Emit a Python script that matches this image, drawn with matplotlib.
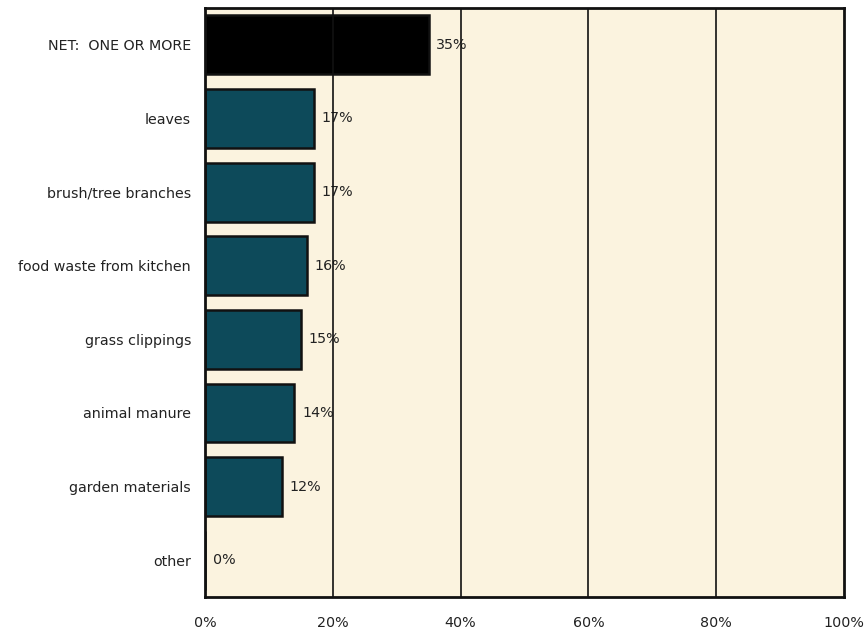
import matplotlib.pyplot as plt
import numpy as np

categories = ['NET:  ONE OR MORE', 'leaves', 'brush/tree branches',
              'food waste from kitchen', 'grass clippings', 'animal manure',
              'garden materials', 'other']
values = [35, 17, 17, 16, 15, 14, 12, 0]
bar_colors = ['#000000'] + ['#0d4a5a'] * 7
xticks = [0, 20, 40, 60, 80, 100]

fig = plt.figure(figsize=(8.67, 6.35), dpi=100)
ax = fig.add_axes([0.2364, 0.0598, 0.9735 - 0.2364, 0.9874 - 0.0598])
ax.set_facecolor('#fbf3df')

y = np.arange(len(categories))
ax.barh(y, values, height=0.8, color=bar_colors, edgecolor='#111111',
        linewidth=1.8, zorder=2)

for yi, v in zip(y, values):
    ax.text(v + 1.2, yi, f'{v}%', va='center', ha='left', fontsize=10.3,
            color='#222222', zorder=3)

ax.set_xlim(0, 100)
ax.set_ylim(len(categories) - 0.5, -0.5)
ax.set_yticks(y)
ax.set_yticklabels(categories, fontsize=10.3, color='#222222')
ax.set_xticks(xticks)
ax.set_xticklabels([f'{t}%' for t in xticks], fontsize=10.3, color='#222222')
ax.tick_params(length=0, pad=10, axis='y')
ax.tick_params(length=0, pad=14, axis='x')

for t in xticks[1:-1]:
    ax.axvline(t, color='#111111', linewidth=1.2, zorder=4)

for s in ax.spines.values():
    s.set_linewidth(2)
    s.set_color('#111111')
    s.set_zorder(5)

fig.savefig('out.png', dpi=100)
